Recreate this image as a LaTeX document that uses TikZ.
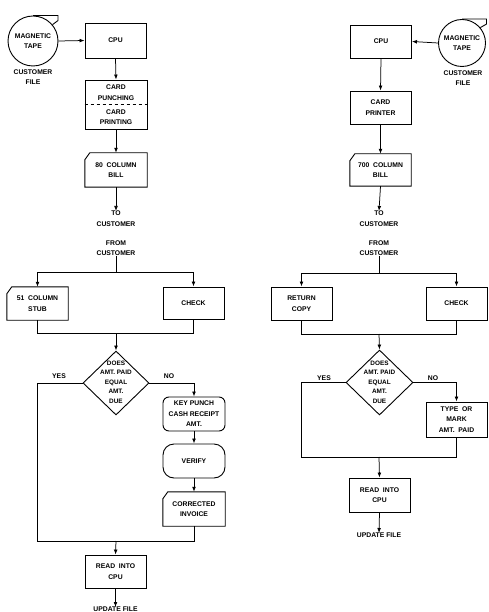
\documentclass[tikz,border=0pt]{standalone}
\usepackage{fontspec}
\setmainfont{Liberation Sans}
\usetikzlibrary{shapes.geometric,arrows.meta}
\newcommand\cardoutline[1]{\draw[outl] ([xshift=5pt]#1.north west) -- (#1.north east) -- (#1.south east) -- (#1.south west) -- ([yshift=-7pt]#1.north west) -- cycle;}
\begin{document}
\begin{tikzpicture}[x=1pt,y=-1pt,
  every node/.style={font=\fontsize{6.8}{10.5}\selectfont\bfseries, align=center, inner sep=0pt},
  outl/.style={line width=0.9pt, line join=miter},
  box/.style={draw, outl, minimum width=61pt, minimum height=33pt},
  card/.style={minimum width=61pt, minimum height=33pt},
  rbox/.style={box, rounded corners=#1},
  tape/.style={circle, draw, outl},
  dec/.style={diamond, draw, outl, minimum width=66pt, minimum height=64pt, inner sep=0pt},
  dectext/.style={font=\fontsize{6.4}{9.5}\selectfont\bfseries},
  conn/.style={line width=0.75pt},
  arr/.style={conn, -{Latex[length=5pt,width=3.8pt]}},
]
\useasboundingbox (0,0) rectangle (489,612);

% ---------------- LEFT ----------------
\node[tape, minimum size=50pt] (tapeL) at (33,41) {MAGNETIC\\TAPE};
\draw[outl] (tapeL.north) -- ++(25,0) -- ++(0,5) -- (tapeL.40);
\node (cfL) at (33,77) {CUSTOMER\\FILE};
\node[box, minimum height=35pt] (cpuL) at (115.5,40.5) {CPU};
\draw[arr] (tapeL.east) -- (cpuL.west);

\node[box, minimum width=62pt, minimum height=49pt] (punchL) at (116,104.5) {};
\node (punchA) at (116,92.5) {CARD\\PUNCHING};
\node (punchB) at (116,117) {CARD\\PRINTING};
\draw[conn, dashed] (punchL.west) -- (punchL.east);
\draw[arr] (cpuL.south) -- (punchL.north);

\node[card, minimum width=62pt, minimum height=34pt] (billL) at (116,170) {80\ \ COLUMN\\BILL};
\cardoutline{billL}
\draw[arr] (punchL.south) -- (billL.north);

\node[anchor=north] (toL) at (116,211) {TO\\CUSTOMER};
\draw[arr] (billL.south) -- (toL.north);
\node (fromL) at (116,248) {FROM\\CUSTOMER};

\coordinate (sL) at (116,272);
\node[card] (stub) at (37.5,303.5) {51\ \ COLUMN\\STUB};
\cardoutline{stub}
\node[box, minimum height=32pt] (checkL) at (193.5,303) {CHECK};
\draw[conn] (fromL.south) -- (sL);
\draw[arr] (sL) -| (stub.north);
\draw[arr] (sL) -| (checkL.north);

\coordinate (jL) at (116,333);
\draw[conn] (stub.south) |- (jL);
\draw[conn] (checkL.south) |- (jL);

\node[dec] (decL) at (116,383) {};
\node[dectext] (decLt) at (116,382) {DOES\\AMT. PAID\\EQUAL\\AMT.\\DUE};
\draw[arr] (jL) -- (decL.north);

\node[rbox=6pt, minimum width=62pt, minimum height=34pt] (keyp) at (194,414) {KEY PUNCH\\CASH RECEIPT\\AMT.};
\node[rbox=11pt, minimum width=62pt, minimum height=34pt] (verify) at (194,461) {VERIFY};
\node[card, minimum width=62pt, minimum height=34pt] (invoice) at (194,509) {CORRECTED\\INVOICE};
\cardoutline{invoice}
\draw[arr] (decL.east) -| (keyp.north);
\draw[arr] (keyp.south) -- (verify.north);
\draw[arr] (verify.south) -- (invoice.north);
\node (noL) at (169,376) {NO};
\node (yesL) at (59,376) {YES};

\coordinate (yL) at (37,541);
\coordinate (mL) at (116,541);
\draw[conn] (decL.west) -| (yL) -- (mL);
\draw[conn] (invoice.south) |- (mL);

\node[box] (readL) at (115.5,571.5) {READ\ \ INTO\\CPU};
\draw[arr] (mL) -- (readL.north);
\node[anchor=north] (updL) at (115.5,607) {UPDATE FILE};
\draw[arr] (readL.south) -- (updL.north);

% ---------------- RIGHT ----------------
\node[box] (cpuR) at (381,41.5) {CPU};
\node[tape, minimum size=47pt] (tapeR) at (462,43) {MAGNETIC\\TAPE};
\draw[outl] (tapeR.north) -- ++(24.5,0) -- ++(0,5) -- (tapeR.40);
\node (cfR) at (463,78) {CUSTOMER\\FILE};
\draw[arr] (tapeR.west) -- (cpuR.east);

\node[box] (printR) at (380.5,107.5) {CARD\\PRINTER};
\draw[arr] (cpuR.south) -- (printR.north);
\node[card, minimum height=32pt] (billR) at (380.5,170) {700\ \ COLUMN\\BILL};
\cardoutline{billR}
\draw[arr] (printR.south) -- (billR.north);

\node[anchor=north] (toR) at (379,211) {TO\\CUSTOMER};
\draw[arr] (billR.south) -- (toR.north);
\node (fromR) at (379,248) {FROM\\CUSTOMER};

\coordinate (sR) at (379,273);
\node[box] (retR) at (301.5,303.5) {RETURN\\COPY};
\node[box] (checkR) at (456.5,303.5) {CHECK};
\draw[conn] (fromR.south) -- (sR);
\draw[arr] (sR) -| (retR.north);
\draw[arr] (sR) -| (checkR.north);

\coordinate (jR) at (379,334);
\draw[conn] (retR.south) |- (jR);
\draw[conn] (checkR.south) |- (jR);

\node[dec, minimum width=67pt, minimum height=65pt] (decR) at (379.5,382.5) {};
\node[dectext] (decRt) at (379.5,382) {DOES\\AMT. PAID\\EQUAL\\AMT.\\DUE};
\draw[arr] (jR) -- (decR.north);
\node (yesR) at (324,378) {YES};
\node (noR) at (433,378) {NO};

\node[box, minimum height=35pt] (typeR) at (456.5,419.5) {TYPE\ \ OR\\MARK\\AMT.\ \ PAID};
\draw[arr] (decR.east) -| (typeR.north);

\coordinate (yR) at (301,457);
\coordinate (mR) at (379,457);
\draw[conn] (decR.west) -| (yR) -- (mR);
\draw[conn] (typeR.south) |- (mR);

\node[box, minimum height=34pt] (readR) at (379.5,495) {READ\ \ INTO\\CPU};
\draw[arr] (mR) -- (readR.north);
\node[anchor=north] (updR) at (379,533) {UPDATE FILE};
\draw[arr] (readR.south) -- (updR.north);
\end{tikzpicture}
\end{document}
